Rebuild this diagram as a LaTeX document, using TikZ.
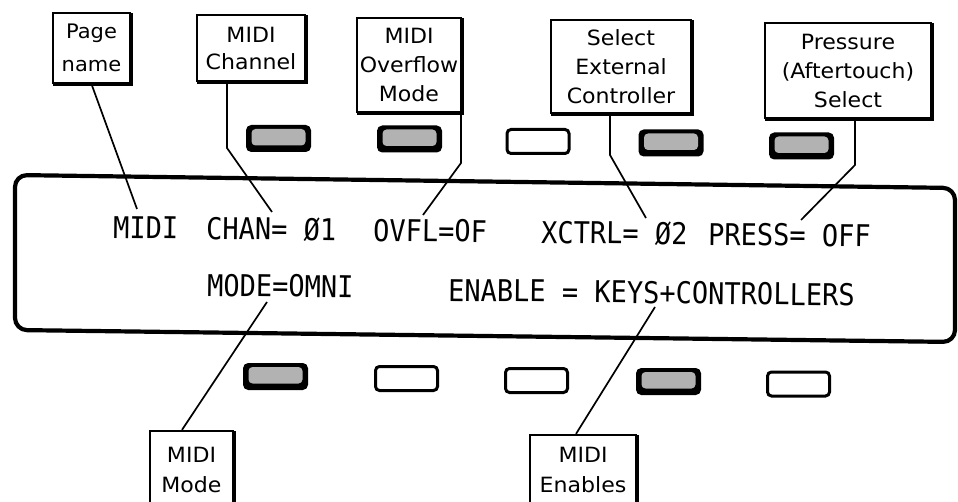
\documentclass[tikz,border=0pt]{standalone}
\usepackage{fontspec}
\usetikzlibrary{calc}
\newfontfamily\lcdfont{DejaVu Sans Mono}[FakeStretch=0.9]
\newfontfamily\labfont{DejaVu Sans}[FakeStretch=1.05]
\begin{document}
\begin{tikzpicture}[x=1pt,y=-1pt,
  lbl/.style={draw, line width=2.2pt, align=center, inner sep=0pt,
              font=\labfont\fontsize{21}{29}\selectfont},
  shadowedge/.style={line width=3.6pt, line cap=butt, line join=miter},
  lcd/.style={anchor=base west, inner sep=0pt, rotate=-0.7,
              font=\lcdfont\fontsize{30}{30}\selectfont},
  wire/.style={line width=1.7pt},
  btn/.style={draw, line width=3pt, rounded corners=4pt, inner sep=0pt,
              minimum width=62pt, minimum height=24pt},
  darkbtn/.style={btn, fill=black,
     path picture={\fill[black!30]
       ($(path picture bounding box.south west)+(4,-5)$) rectangle
       ($(path picture bounding box.north east)+(-4,2.5)$);}},
  panel/.style={draw, line width=4.2pt, rounded corners=12pt}
]
\useasboundingbox (0,0) rectangle (958,502);
\clip (0,0) rectangle (958,502);
\fill[white] (0,0) rectangle (958,502);

% display panel
\draw[panel] (15,175) -- (955,188) -- (955,342) -- (15,330) -- cycle;

% display texts
\node[lcd] (tmidi)  at (113,238) {MIDI};
\node[lcd] (tchan)  at (206,239) {CHAN= Ø1};
\node[lcd] (tovfl)  at (373,241) {OVFL=OF};
\node[lcd] (txctrl) at (541,243) {XCTRL= Ø2};
\node[lcd] (tpress) at (708,245) {PRESS= OFF};
\node[lcd] (tmode)  at (207,296) {MODE=OMNI};
\node[lcd] (tenab)  at (448,301) {ENABLE = KEYS+CONTROLLERS};

% top buttons
\node[darkbtn] (b1) at (278.5,138.5) {};
\node[darkbtn] (b2) at (409.5,139) {};
\node[btn]     (b3) at (538,141.5) {};
\node[darkbtn] (b4) at (671,143) {};
\node[darkbtn] (b5) at (801.5,146) {};
% bottom buttons
\node[darkbtn] (c1) at (275.5,376.5) {};
\node[btn]     (c2) at (406.5,378.5) {};
\node[btn]     (c3) at (536.5,380.5) {};
\node[darkbtn] (c4) at (668.5,381.5) {};
\node[btn]     (c5) at (798.5,384) {};

% label boxes
\node[lbl, minimum width=77pt, minimum height=70pt,
      font=\labfont\fontsize{20}{33}\selectfont] (pn) at (91.5,48) {Page\\name};
\node[lbl, minimum width=108pt, minimum height=66pt,
      font=\labfont\fontsize{21}{27}\selectfont] (ch) at (251,48) {MIDI\\Channel};
\node[lbl, minimum width=104pt, minimum height=94pt] (ov) at (409,65) {MIDI\\Overflow\\Mode};
\node[lbl, minimum width=140pt, minimum height=93pt] (xc) at (621,66.5) {Select\\External\\Controller};
\node[lbl, minimum width=166pt, minimum height=95pt] (pr) at (848,70.5) {Pressure\\(Aftertouch)\\Select};
\node[lbl, minimum width=83pt, minimum height=78pt,
      font=\labfont\fontsize{21}{30}\selectfont] (md) at (191.5,470) {MIDI\\Mode};
\node[lbl, minimum width=106pt, minimum height=70pt,
      font=\labfont\fontsize{21}{30}\selectfont] (en) at (583,470) {MIDI\\Enables};

% heavier right and bottom edges of the label boxes
\foreach \n in {pn,ch,ov,xc,pr,md,en}
  \draw[shadowedge] ($(\n.south west)+(1.1,0)$) -- (\n.south east)
                    -- ($(\n.north east)+(0,1.1)$);

% connectors
\coordinate (pnE) at (137,209);
\draw[wire] (pn.south) -- (pnE);

\coordinate (chK) at (227,148);
\coordinate (chE) at (272,212);
\draw[wire] (ch.south -| chK) -- (chK) -- (chE);

\coordinate (ovK) at (461,163);
\coordinate (ovE) at (423,215);
\draw[wire] (ov.south -| ovK) -- (ovK) -- (ovE);

\coordinate (xcK) at (610,155);
\coordinate (xcE) at (646,218);
\draw[wire] (xc.south -| xcK) -- (xcK) -- (xcE);

\coordinate (prK) at (855,165);
\coordinate (prE) at (801,220);
\draw[wire] (pr.south -| prK) -- (prK) -- (prE);

\coordinate (mdE) at (267,302);
\coordinate (mdK) at (182,431);
\draw[wire] (mdE) -- (md.north -| mdK);

\coordinate (enE) at (655,307);
\coordinate (enK) at (576,435);
\draw[wire] (enE) -- (en.north -| enK);
\end{tikzpicture}
\end{document}
